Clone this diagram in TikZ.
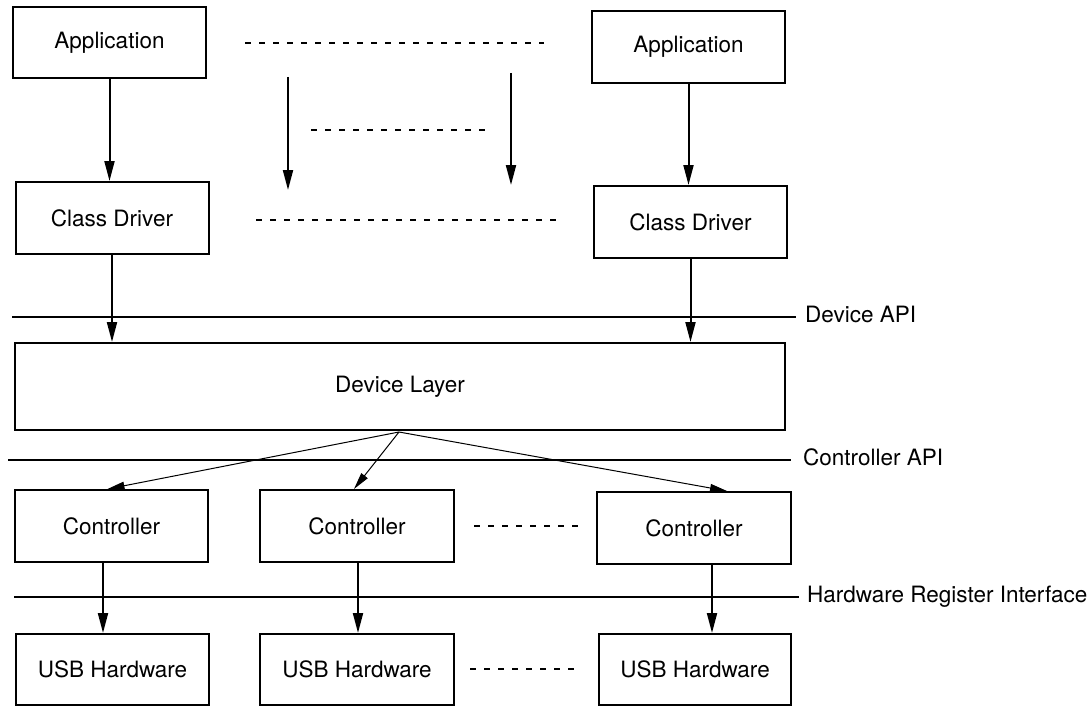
\documentclass[tikz,border=0pt]{standalone}
\usepackage{fontspec}
\setmainfont{TeX Gyre Heros}
\usetikzlibrary{arrows.meta}

\begin{document}
\begin{tikzpicture}[x=1pt,y=-1pt,
  box/.style={draw,line width=2pt,inner sep=0pt,minimum width=193pt,minimum height=72pt,font=\fontsize{22.5}{27}\selectfont},
  flow/.style={line width=2pt,-{Triangle[length=20pt,width=10pt]}},
  fan/.style={line width=1pt,-{Triangle[length=17pt,width=8pt]}},
  layer/.style={line width=2pt},
  dots/.style={line width=1.5pt,dash pattern=on 6pt off 8pt},
  lbl/.style={anchor=base west,inner sep=0pt,font=\fontsize{22.5}{27}\selectfont}]
  \useasboundingbox (0,0) rectangle (1092,706);
  % top
  %boxes
  \node[box,at={(109.5,42.5)},minimum height=71pt] (app1) {Application};
  \node[box,at={(688.5,47)}] (app2) {Application};
  \node[box,at={(112,218)}] (drv1) {Class Driver};
  \node[box,at={(690.5,222)}] (drv2) {Class Driver};
  %edges
  \draw[flow] (app1.south) -- (app1.south |- drv1.north);
  \draw[flow] (app2.south) -- (app2.south |- drv2.north);
  \coordinate (midA) at (288,77);
  \coordinate (midAend) at (288,190);
  \coordinate (midB) at (511,73);
  \coordinate (midBend) at (511,185);
  \draw[flow] (midA) -- (midAend);
  \draw[flow] (midB) -- (midBend);
  %gaps
  \draw[dots] (245,43) -- (544,43);
  \draw[dots] (311,130) -- (492,130);
  \draw[dots] (256,220) -- (556,220);

  % main
  \node[box,at={(400,386.5)},minimum width=770pt,minimum height=87pt] (dev) {Device Layer};
  \draw[flow] (drv1.south) -- (drv1.south |- dev.north);
  \draw[flow] (drv2.south) -- (drv2.south |- dev.north);
  \draw[layer] (12,317) -- (796,317);
  \node[lbl,at={(805,322)}] (devapi) {Device API};

  % bottom
  %boxes
  \node[box,at={(111.5,526)}] (ctl1) {Controller};
  \node[box,at={(357,526)},minimum width=194pt] (ctl2) {Controller};
  \node[box,at={(694,528)},minimum width=194pt] (ctl3) {Controller};
  \node[box,at={(112.5,669.5)},minimum height=71pt] (usb1) {USB Hardware};
  \node[box,at={(357,669.5)},minimum width=194pt,minimum height=71pt] (usb2) {USB Hardware};
  \node[box,at={(695,669.5)},minimum width=192pt,minimum height=71pt] (usb3) {USB Hardware};
  %edges
  \coordinate (fork) at (399,432);
  \draw[fan] (fork) -- ([xshift=-4pt]ctl1.north);
  \draw[fan] (fork) -- ([xshift=-3pt]ctl2.north);
  \draw[fan] (fork) -- ([xshift=33pt]ctl3.north);
  \draw[flow] ([xshift=-8.5pt]ctl1.south) -- ([xshift=-9.5pt]usb1.north);
  \draw[flow] ([xshift=1pt]ctl2.south) -- ([xshift=1pt]usb2.north);
  \draw[flow] ([xshift=18pt]ctl3.south) -- ([xshift=17pt]usb3.north);
  %gaps
  \draw[dots] (474,526) -- (584,526);
  \draw[dots] (470,669) -- (580,669);
  %layers
  \draw[layer] (8,460) -- (791,460);
  \node[lbl,at={(803,465)}] (ctlapi) {Controller API};
  \draw[layer] (14,597) -- (799,597);
  \node[lbl,at={(807,602)}] (hwif) {Hardware Register Interface};
\end{tikzpicture}
\end{document}
